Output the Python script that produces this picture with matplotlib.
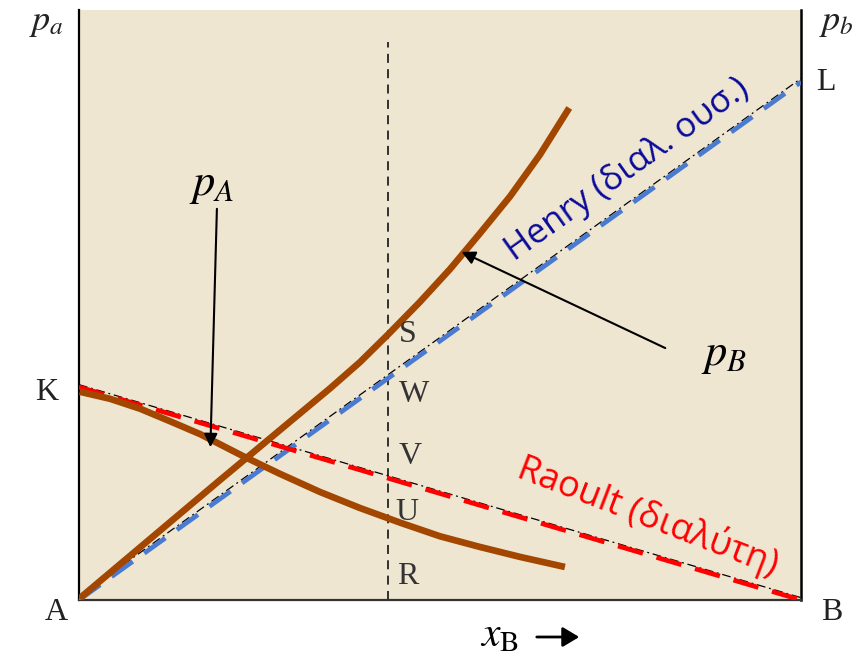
import matplotlib
matplotlib.use("Agg")
import matplotlib.pyplot as plt
import numpy as np

plt.rcParams['mathtext.fontset'] = 'stix'

# ---- data (x = mole fraction of B, y = relative pressure) ----
henry_x = [0.0, 1.0]
henry_y = [0.0, 0.878]
raoult_x = [0.0, 1.0]
raoult_y = [0.361, 0.0]
pB_x = [0.001, 0.098, 0.195, 0.292, 0.348, 0.389, 0.428, 0.472, 0.514, 0.555,
        0.597, 0.638, 0.679]
pB_y = [0.003, 0.103, 0.203, 0.302, 0.359, 0.403, 0.450, 0.505, 0.561, 0.621,
        0.684, 0.754, 0.834]
pA_x = [0.001, 0.043, 0.085, 0.126, 0.168, 0.227, 0.278, 0.334, 0.389, 0.445,
        0.500, 0.555, 0.611, 0.673]
pA_y = [0.353, 0.341, 0.324, 0.303, 0.281, 0.244, 0.214, 0.183, 0.156, 0.131,
        0.108, 0.090, 0.073, 0.056]
x_mark = 0.428
x_mark_top = 0.946
point_labels = ['S', 'W', 'V', 'U', 'R']

W, H = 856, 660
fig = plt.figure(figsize=(W / 100, H / 100), dpi=100)
ax = fig.add_axes([79 / W, 1 - 600 / H, 722 / W, 590 / H])
ax.set_xlim(0, 1)
ax.set_ylim(0, 1)
ax.set_facecolor('#eee6d1')
ax.set_xticks([])
ax.set_yticks([])
ax.spines['top'].set_visible(False)
ax.spines['left'].set_linewidth(1.6)
ax.spines['right'].set_linewidth(1.8)
ax.spines['bottom'].set_linewidth(1.6)
ax.spines['bottom'].set_color('#333333')

brown = '#a34700'

# thin black dash-dot reference lines
ax.plot(henry_x, np.array(henry_y) + 0.006, color='black', lw=0.9,
        linestyle=(0, (7, 3, 1.5, 3)), zorder=2)
ax.plot(raoult_x, np.array(raoult_y) + 0.004, color='black', lw=0.9,
        linestyle=(0, (7, 3, 1.5, 3)), zorder=2)

# dashed limiting laws
ax.plot(henry_x, henry_y, color='#4a7bd0', lw=3.4, linestyle=(0, (5.5, 3)), zorder=3)
ax.plot(raoult_x, raoult_y, color='#ff0000', lw=3.4, linestyle=(0, (5.5, 3)), zorder=3)

# partial pressure curves
ax.plot(pB_x, pB_y, color=brown, lw=4.8, solid_capstyle='butt', solid_joinstyle='round', zorder=4)
ax.plot(pA_x, pA_y, color=brown, lw=4.8, solid_capstyle='butt', solid_joinstyle='round', zorder=4)

# vertical dashed line
ax.plot([x_mark, x_mark], [0, x_mark_top], color='#222222', lw=1.3,
        linestyle=(0, (5, 3.5)), zorder=1)

def fx(px):
    return px / W

def fy(py):
    return 1 - py / H

serif = 'Liberation Serif'
# point labels along vertical line
for lab, (px, py) in zip(point_labels, [(408, 335), (414, 395), (410, 456), (407, 512), (408, 577)]):
    fig.text(fx(px), fy(py), lab, family=serif, fontsize=23, color='#333333',
             ha='center', va='center')

fig.text(fx(47), fy(392), 'K', family=serif, fontsize=23, ha='center', va='center', color='#222222')
fig.text(fx(56), fy(613), 'A', family=serif, fontsize=23, ha='center', va='center', color='#222222')
fig.text(fx(832), fy(612), 'B', family=serif, fontsize=23, ha='center', va='center', color='#222222')
fig.text(fx(826), fy(82), 'L', family=serif, fontsize=23, ha='center', va='center', color='#222222')
fig.text(fx(46), fy(22), r'$p_a$', fontsize=26, ha='center', va='center', color='#222222')
fig.text(fx(836), fy(22), r'$p_b$', fontsize=26, ha='center', va='center', color='#222222')

# pA / pB labels and arrows
fig.text(fx(212), fy(184), r'$p_A$', fontsize=32, ha='center', va='center')
fig.text(fx(724), fy(355), r'$p_B$', fontsize=32, ha='center', va='center')
ax.annotate('', xy=(0.182, 0.259), xytext=(0.191, 0.663),
            arrowprops=dict(arrowstyle='-|>', color='black', lw=1.5, mutation_scale=20,
                            shrinkA=0, shrinkB=0), zorder=6)
ax.annotate('', xy=(0.530, 0.590), xytext=(0.812, 0.427),
            arrowprops=dict(arrowstyle='-|>', color='black', lw=1.5, mutation_scale=20,
                            shrinkA=0, shrinkB=0), zorder=6)

# law labels
fig.text(fx(627), fy(170), 'Henry (διαλ. ουσ.)', family='Open Sans', fontsize=25,
         color='#0a0a9a', rotation=35.5, ha='center', va='center', rotation_mode='anchor')
fig.text(fx(648), fy(516), 'Raoult (διαλύτη)', family='Open Sans', fontsize=26,
         color='#ff0000', rotation=-21, ha='center', va='center', rotation_mode='anchor')

# x_B axis label with arrow
fig.text(fx(499), fy(634), r'$x_{\mathrm{B}}$', fontsize=30, ha='center', va='center')
fig.patches.append(matplotlib.patches.FancyArrowPatch(
    (fx(534), fy(637)), (fx(582), fy(637)), transform=fig.transFigure,
    arrowstyle='-|>,head_length=0.5,head_width=0.3', color='black', lw=2.0,
    mutation_scale=20))

fig.savefig('out.png', dpi=100, facecolor='white')
